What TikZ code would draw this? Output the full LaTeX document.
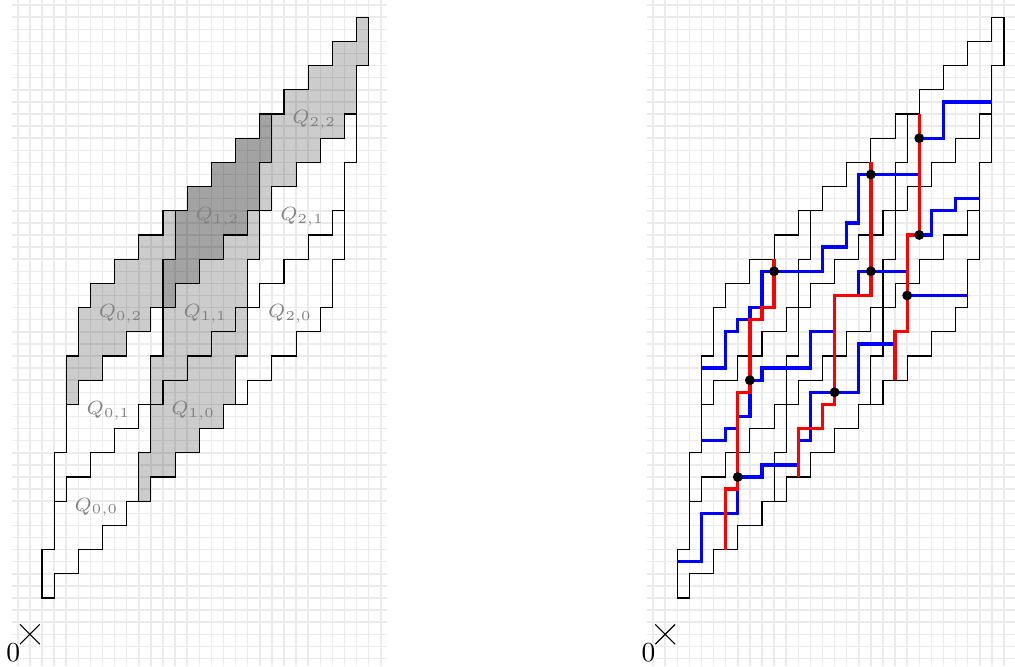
\documentclass[tikz,border=0pt]{standalone}
\usetikzlibrary{calc}

% one block Q_{0,0}; the others are shifted copies
\newcommand{\qblock}{(1,3) -- ++(1,0) -- ++(0,2) -- ++(2,0) -- ++(0,2) -- ++(2,0) -- ++(0,2) -- ++(2,0) -- ++(0,2) -- ++(1,0)
  -- ++(0,4) -- ++(1,0) -- ++(0,4)
  -- ++(-1,0) -- ++(0,-2) -- ++(-2,0) -- ++(0,-2) -- ++(-2,0) -- ++(0,-2) -- ++(-2,0) -- ++(0,-2) -- ++(-1,0)
  -- ++(0,-4) -- ++(-1,0) -- cycle}

\newcommand{\qgrid}{%
  \foreach \x in {-1,...,29} \draw[gridline] (\x,-2.62) -- (\x,52.42);
  \foreach \y in {-2,...,52} \draw[gridline] (-1.5,\y) -- (29.5,\y);
}
\newcommand{\qoutline}[1]{%
  \foreach \i in {0,1,2} \foreach \j in {0,1,2}
    \draw[shift={(8*\i+\j,8*\i+8*\j)}] \qblock;
  \draw (-.82,-.82) -- (.82,.82) (-.82,.82) -- (.82,-.82);
  \node (#1) at (-1.37,-1.5) {$0$};
}

\tikzset{
  gridline/.style={gray!16, line width=.55pt},
  qfill/.style={fill=black, fill opacity=.2},
  qlabel/.style={text=gray, font=\scriptsize},
  bluepath/.style={blue, line width=1.2pt},
  redpath/.style={red, line width=1.2pt},
}

\begin{document}
\begin{tikzpicture}[x=.155cm, y=.155cm]
\useasboundingbox (-2.47,-2.62) rectangle (81.41,52.42);
\clip (-2.47,-2.62) rectangle (81.41,52.42);

% left: the blocks Q_{i,j}
\begin{scope}
\qgrid
\foreach \i/\j in {0/2, 1/2, 2/2, 1/0, 1/1, 1/2}
  \fill[qfill, shift={(8*\i+\j,8*\i+8*\j)}] \qblock;
\qoutline{orgl}
\foreach \i in {0,1,2} \foreach \j in {0,1,2}
  \node[qlabel] (q\i\j) at (5.5+8*\i+\j, 10.5+8*\i+8*\j) {$Q_{\i,\j}$};
\end{scope}

% right: crossings
\begin{scope}[shift={(52.5,0)}]
\qgrid
\qoutline{orgr}
\draw[bluepath] (27,44) -- (23,44) -- (23,41) -- (21,41);
\draw[bluepath] (26,36) -- (24,36) -- (24,35) -- (22,35) -- (22,33) -- (21,33);
\draw[bluepath] (25,28) -- (20,28);
\draw[bluepath] (21,38) -- (16,38) -- (16,34) -- (15,34) -- (15,32) -- (13,32) -- (13,30) -- (8,30) -- (8,27)
  -- (7,27) -- (7,26) -- (6,26) -- (6,25) -- (5,25) -- (5,22) -- (3,22);
\draw[bluepath] (20,30) -- (16,30) -- (16,28) -- (14,28) -- (14,25) -- (12,25) -- (12,22) -- (8,22) -- (8,21)
  -- (7,21) -- (7,18) -- (6,18) -- (6,17) -- (5,17) -- (5,16) -- (3,16);
\draw[bluepath] (19,24) -- (16,24) -- (16,20) -- (12,20) -- (12,16) -- (11,16) -- (11,14) -- (8,14) -- (8,13)
  -- (6,13) -- (6,10) -- (3,10) -- (3,6) -- (1,6);
\draw[redpath] (9,31) -- (9,27) -- (8,27) -- (8,26) -- (7,26) -- (7,20) -- (6,20) -- (6,12) -- (5,12) -- (5,7);
\draw[redpath] (17,39) -- (17,28) -- (14,28) -- (14,19) -- (13,19) -- (13,17) -- (11,17) -- (11,13);
\draw[redpath] (21,43) -- (21,33) -- (20,33) -- (20,25) -- (19,25) -- (19,21);
\foreach \p in {(21,41), (17,38), (9,30), (21,33), (17,30), (7,21), (20,28), (14,20), (6,13)}
  \fill \p circle (1.8pt);
\end{scope}
\end{tikzpicture}
\end{document}
